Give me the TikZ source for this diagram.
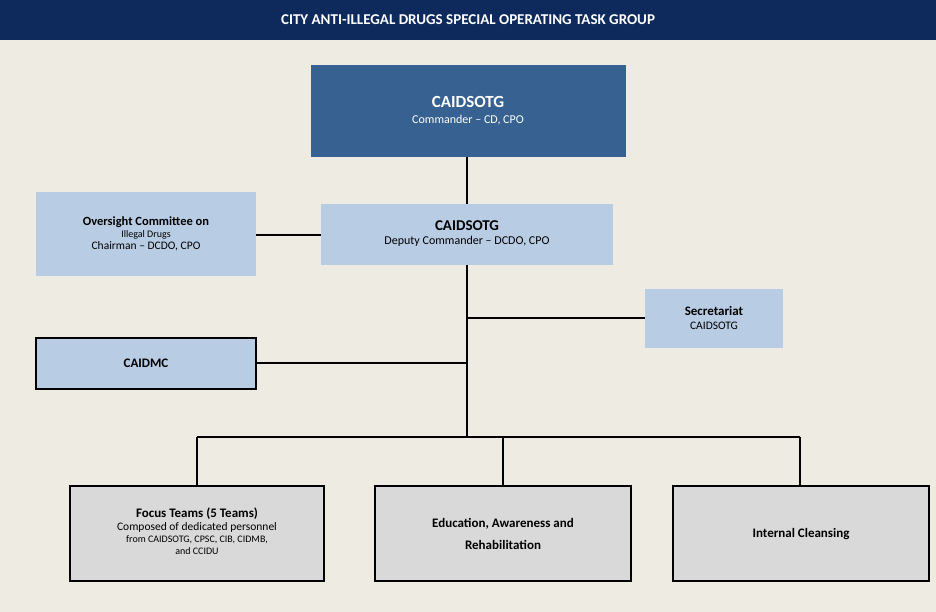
\documentclass[tikz,border=0pt]{standalone}
\usepackage{fontspec}
\setmainfont{Carlito}
\definecolor{bg}{HTML}{EEEBE2}
\definecolor{navy}{HTML}{0E2A5C}
\definecolor{cmd}{HTML}{366191}
\definecolor{lb}{HTML}{B8CCE4}
\definecolor{gr}{HTML}{D9D9D9}
\begin{document}
\begin{tikzpicture}[x=1pt,y=-1pt,
 box/.style={inner sep=0pt,align=center,text=black},
 ln/.style={line width=2.2pt}]
\fill[bg] (0,0) rectangle (936,612);
\useasboundingbox (0,0) rectangle (936,612);
\fill[navy] (0,0) rectangle (936,40);
\node[text=white,font=\bfseries\fontsize{15}{18}\selectfont] (title) at (468,20) {CITY ANTI-ILLEGAL DRUGS SPECIAL OPERATING TASK GROUP};
% lines
\coordinate (bl) at (197,437); \coordinate (bm) at (503,437); \coordinate (br) at (800,437); \coordinate (bc) at (467,437);
\coordinate (s) at (467,318); \coordinate (m) at (467,363);
\fill[cmd] (311,65) rectangle (626,157);
\node[box,text=white] (cmdr) at (468,111) {\fontsize{17}{20}\selectfont\bfseries CAIDSOTG\\[4pt]\mdseries\fontsize{12}{14}\selectfont Commander -- CD, CPO};
\fill[lb] (321,204) rectangle (613,265);
\node[box] (dep) at (467,234) {\fontsize{15}{18}\selectfont\bfseries CAIDSOTG\\[2pt]\mdseries\fontsize{12}{14}\selectfont Deputy Commander -- DCDO, CPO};
\fill[lb] (36,192) rectangle (256,276);
\node[box] (ovs) at (146,234) {\fontsize{12.5}{16}\selectfont\bfseries Oversight Committee on\\Illegal Drugs\\\mdseries\fontsize{11.5}{14}\selectfont Chairman -- DCDO, CPO};
\fill[lb] (645,289) rectangle (783,348);
\node[box] (sec) at (714,318) {\fontsize{13}{16}\selectfont\bfseries Secretariat\\[2pt]\mdseries\fontsize{11.5}{14}\selectfont CAIDSOTG};
\draw[fill=lb,line width=2.2pt] (36,338) rectangle (256,389);
\node[box,font=\bfseries\fontsize{13}{16}\selectfont] (cmc) at (146,363) {CAIDMC};
\draw[fill=gr,line width=2pt] (70,486) rectangle (324,581);
\node[box] (foc) at (197,531) {\fontsize{13}{16}\selectfont\bfseries Focus Teams (5 Teams)\\[1pt]\mdseries\fontsize{11.5}{19}\selectfont Composed of dedicated personnel\\from CAIDSOTG, CPSC, CIB, CIDMB,\\and CCIDU};
\draw[fill=gr,line width=2pt] (375,486) rectangle (631,581);
\node[box,font=\bfseries\fontsize{13}{22}\selectfont] (edu) at (503,534) {Education, Awareness and\\Rehabilitation};
\draw[fill=gr,line width=2pt] (673,486) rectangle (929,581);
\node[box,font=\bfseries\fontsize{13}{16}\selectfont] (icl) at (801,534) {Internal Cleansing};
\draw[ln] (467,157) -- (467,204);
\draw[ln] (467,265) -- (bc);
\draw[ln] (256,235) -- (321,235);
\draw[ln] (s) -- (645,318);
\draw[ln] (256,363) -- (m);
\draw[ln] (bl) -- (br);
\draw[ln] (bl) -- (197,486);
\draw[ln] (bm) -- (503,486);
\draw[ln] (br) -- (800,486);
\end{tikzpicture}
\end{document}
